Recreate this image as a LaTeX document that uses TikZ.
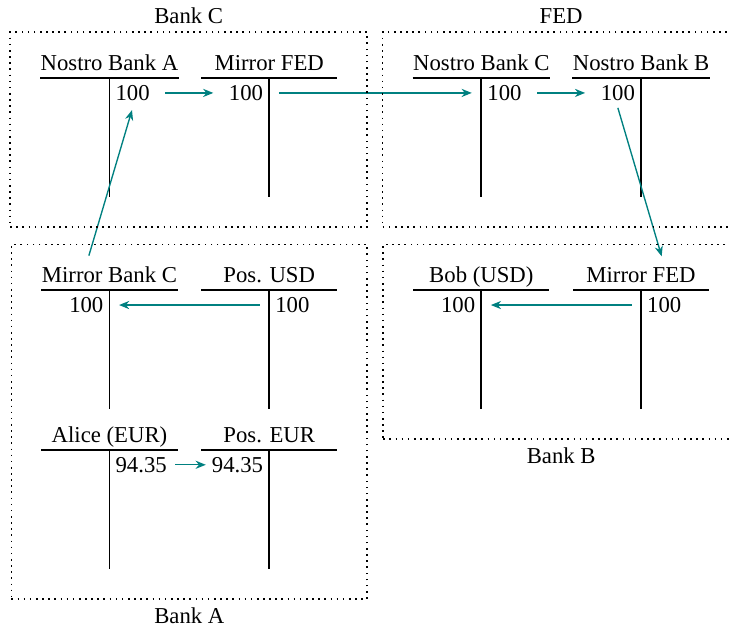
\documentclass[tikz,border=0pt]{standalone}
\usepackage{fontspec}
\setmainfont{Liberation Serif}
\usepackage{tikz}
\usetikzlibrary{positioning, arrows.meta, fit}

\begin{document}
\begin{tikzpicture}[
    >={Stealth[length=4.5pt, width=3.6pt]},
    account/.style={
      anchor=south,
      minimum width=2.09cm,
      inner xsep=0pt,
      inner ysep=1pt,
      text depth=2pt,
    },
    tline/.style={thick},
    debit/.style={anchor=north east, inner xsep=2.5pt, inner ysep=3pt},
    credit/.style={anchor=north west, inner xsep=2.5pt, inner ysep=3pt},
    flow/.style={->, semithick, teal, shorten >=4.2pt, shorten <=4.2pt},
    bank/.style={
      draw,
      line width=0.7pt,
      dash pattern=on 0.7pt off 2pt,
      inner xsep=13.2pt,
      inner ysep=11pt,
      yshift=-2.2pt,
      label distance=1pt,
    }
  ]
  \useasboundingbox (-1.693,1.206) rectangle (9.58,-8.536);

  % Bank C
  \node[account] (nba) at (0,0) {Nostro Bank A};
  \node[account] (mfc) at (2.47,0) {Mirror FED};
  % FED
  \node[account] (nbc) at (5.75,0) {Nostro Bank C};
  \node[account] (nbb) at (8.22,0) {Nostro Bank B};
  % Bank A
  \node[account] (mbc) at (0,-3.28) {Mirror Bank C};
  \node[account] (pusd) at (2.47,-3.28) {Pos. USD};
  \node[account] (alice) at (0,-5.75) {Alice (EUR)};
  \node[account] (peur) at (2.47,-5.75) {Pos. EUR};
  % Bank B
  \node[account] (bob) at (5.75,-3.28) {Bob (USD)};
  \node[account] (mfb) at (8.22,-3.28) {Mirror FED};

  % the T lines
  \draw[tline] (nba.south west) -- (nba.south east) (nba.south) -- ++(0,-1.84) coordinate (nba-foot);
  \draw[tline] (mfc.south west) -- (mfc.south east) (mfc.south) -- ++(0,-1.84);
  \draw[tline] (nbc.south west) -- (nbc.south east) (nbc.south) -- ++(0,-1.84) coordinate (nbc-foot);
  \draw[tline] (nbb.south west) -- (nbb.south east) (nbb.south) -- ++(0,-1.84);
  \draw[tline] (mbc.south west) -- (mbc.south east) (mbc.south) -- ++(0,-1.84);
  \draw[tline] (pusd.south west) -- (pusd.south east) (pusd.south) -- ++(0,-1.84);
  \draw[tline] (alice.south west) -- (alice.south east) (alice.south) -- ++(0,-1.84) coordinate (alice-foot);
  \draw[tline] (peur.south west) -- (peur.south east) (peur.south) -- ++(0,-1.84);
  \draw[tline] (bob.south west) -- (bob.south east) (bob.south) -- ++(0,-1.84) coordinate (bob-foot);
  \draw[tline] (mfb.south west) -- (mfb.south east) (mfb.south) -- ++(0,-1.84);

  % entries
  \node[credit] (nba-e) at (nba.south) {100};
  \node[debit] (mfc-e) at (mfc.south) {100};
  \node[credit] (nbc-e) at (nbc.south) {100};
  \node[debit] (nbb-e) at (nbb.south) {100};
  \node[debit] (mbc-e) at (mbc.south) {100};
  \node[credit] (pusd-e) at (pusd.south) {100};
  \node[credit] (alice-e) at (alice.south) {94.35};
  \node[debit] (peur-e) at (peur.south) {94.35};
  \node[debit] (bob-e) at (bob.south) {100};
  \node[credit] (mfb-e) at (mfb.south) {100};

  % money flows
  \draw[flow] (nba-e) -- (mfc-e);
  \draw[flow] (mfc-e) -- (nbc-e);
  \draw[flow] (nbc-e) -- (nbb-e);
  \draw[flow, shorten <=0pt, shorten >=4pt] (nbb-e.south) -- (mfb-e |- mfb.north);
  \draw[flow] (mfb-e) -- (bob-e);
  \draw[flow] (pusd-e) -- (mbc-e);
  \draw[flow, shorten <=4pt, shorten >=1pt] (mbc-e |- mbc.north) -- (nba-e.south);
  \draw[flow, shorten <=1pt, shorten >=0pt] (alice-e) -- (peur-e);

  % bank containers
  \node[bank, fit=(nba) (mfc) (nba-foot), label=above:Bank C] (bankc) {};
  \node[bank, fit=(nbc) (nbb) (nbc-foot), label=above:FED] (fed) {};
  \node[bank, fit=(mbc) (pusd) (alice) (peur) (alice-foot), label=below:Bank A] (banka) {};
  \node[bank, fit=(bob) (mfb) (bob-foot), label=below:Bank B] (bankb) {};
\end{tikzpicture}
\end{document}
